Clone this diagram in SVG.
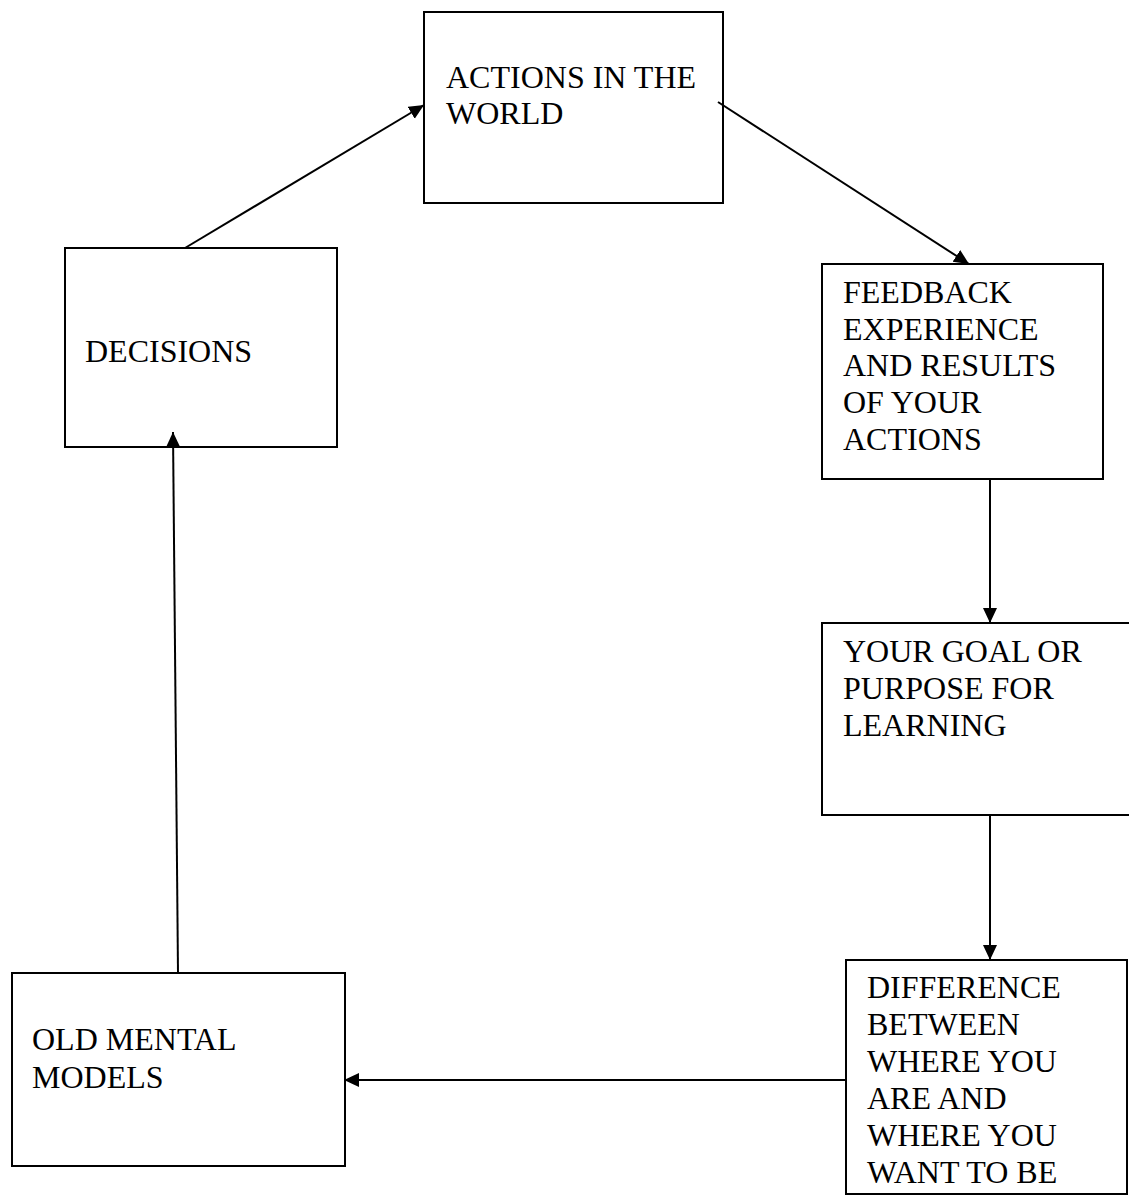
<svg xmlns="http://www.w3.org/2000/svg" width="1129" height="1195" viewBox="0 0 1129 1195">
  <style>
    .box { fill: #ffffff; stroke: #000000; stroke-width: 2; }
    .label { font-family: "Liberation Serif", "Times New Roman", serif; font-size: 32px; fill: #000000; }
    .edge { stroke: #000000; stroke-width: 2; fill: none; marker-end: url(#arrow); }
  </style>
  <defs>
    <marker id="arrow" markerUnits="userSpaceOnUse" markerWidth="16" markerHeight="15" refX="15" refY="7" orient="auto">
      <path d="M0,0 L15,7 L0,14 Z" fill="#000000"/>
    </marker>
  </defs>

  <rect width="1129" height="1195" fill="#ffffff"/>

  <g id="actions">
    <rect class="box" x="424" y="12" width="299" height="191"/>
    <text class="label" x="446" y="88">ACTIONS IN THE</text>
    <text class="label" x="446" y="124">WORLD</text>
  </g>

  <g id="decisions">
    <rect class="box" x="65" y="248" width="272" height="199"/>
    <text class="label" x="85" y="362">DECISIONS</text>
  </g>

  <g id="feedback">
    <rect class="box" x="822" y="264" width="281" height="215"/>
    <text class="label" x="843" y="303">FEEDBACK</text>
    <text class="label" x="843" y="340">EXPERIENCE</text>
    <text class="label" x="843" y="376">AND RESULTS</text>
    <text class="label" x="843" y="413">OF YOUR</text>
    <text class="label" x="843" y="450">ACTIONS</text>
  </g>

  <g id="goal">
    <rect class="box" x="822" y="623" width="320" height="192"/>
    <text class="label" x="843" y="662">YOUR GOAL OR</text>
    <text class="label" x="843" y="699">PURPOSE FOR</text>
    <text class="label" x="843" y="736">LEARNING</text>
  </g>

  <g id="difference">
    <rect class="box" x="846" y="960" width="281" height="234"/>
    <text class="label" x="867" y="998">DIFFERENCE</text>
    <text class="label" x="867" y="1035">BETWEEN</text>
    <text class="label" x="867" y="1072">WHERE YOU</text>
    <text class="label" x="867" y="1109">ARE AND</text>
    <text class="label" x="867" y="1146">WHERE YOU</text>
    <text class="label" x="867" y="1183">WANT TO BE</text>
  </g>

  <g id="old-models">
    <rect class="box" x="12" y="973" width="333" height="193"/>
    <text class="label" x="32" y="1050">OLD MENTAL</text>
    <text class="label" x="32" y="1088">MODELS</text>
  </g>

  <g id="connectors">
    <line class="edge" x1="185" y1="248" x2="424" y2="105"/>
    <line class="edge" x1="718" y1="102" x2="969" y2="264"/>
    <line class="edge" x1="990" y1="479" x2="990" y2="623"/>
    <line class="edge" x1="990" y1="815" x2="990" y2="960"/>
    <line class="edge" x1="846" y1="1080" x2="344" y2="1080"/>
    <line class="edge" x1="178" y1="973" x2="173" y2="432"/>
  </g>
</svg>
